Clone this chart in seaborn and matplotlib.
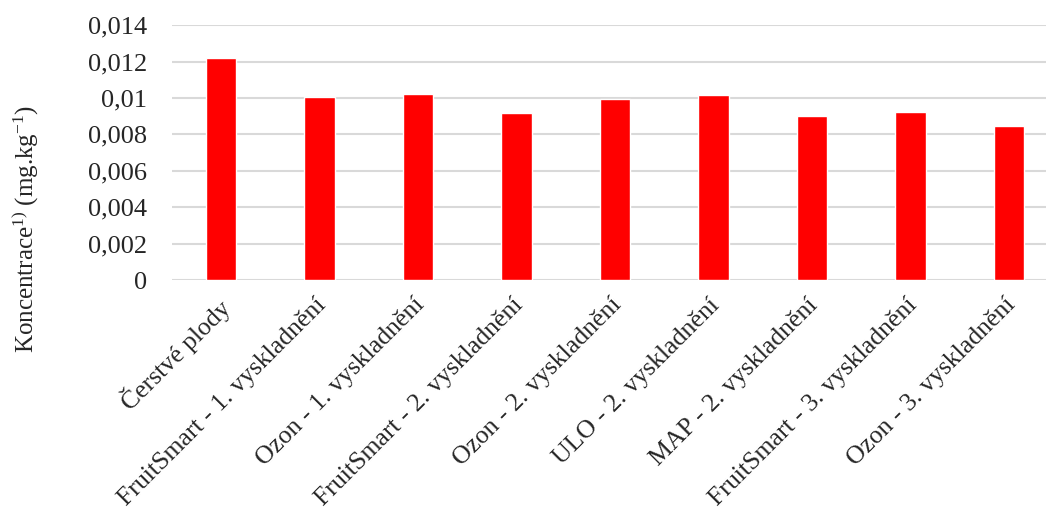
import matplotlib
matplotlib.use("Agg")
import matplotlib.pyplot as plt
import matplotlib.transforms as mtransforms
import seaborn as sns
from matplotlib.ticker import FuncFormatter, MultipleLocator

# Data
categories = [
    "Čerstvé plody",
    "FruitSmart - 1. vyskladnění",
    "Ozon - 1. vyskladnění",
    "FruitSmart - 2. vyskladnění",
    "Ozon - 2. vyskladnění",
    "ULO - 2. vyskladnění",
    "MAP - 2. vyskladnění",
    "FruitSmart - 3. vyskladnění",
    "Ozon - 3. vyskladnění",
]
values = [0.01222, 0.01007, 0.0102, 0.00916, 0.00993, 0.01017, 0.00901, 0.00923, 0.00847]

sns.set_style("white")
plt.rcParams["font.family"] = ["Liberation Serif", "DejaVu Serif"]
plt.rcParams["mathtext.fontset"] = "custom"
plt.rcParams["mathtext.rm"] = "Liberation Serif"
plt.rcParams["mathtext.it"] = "Liberation Serif:italic"

fig = plt.figure(figsize=(10.46, 5.14), dpi=100)
ax = fig.add_axes([0.1644, 0.455, 0.8356, 0.496])

sns.barplot(x=categories, y=values, color="#FF0000", saturation=1, width=0.31, ax=ax, zorder=3)

ax.set_ylim(0, 0.014)
ax.set_xlim(-0.5, 8.375)
ax.yaxis.set_major_locator(MultipleLocator(0.002))
ax.yaxis.set_major_formatter(FuncFormatter(lambda v, p: f"{v:g}".replace(".", ",")))
ax.grid(axis="y", color="#D9D9D9", linewidth=1.5, zorder=0)
ax.set_axisbelow(True)
for s in ax.spines.values():
    s.set_visible(False)

ax.tick_params(axis="y", length=0, labelsize=19, pad=18)
ax.tick_params(axis="x", length=0, labelsize=18.5, pad=10)
shift = mtransforms.ScaledTranslation(-5 / 100, 0, fig.dpi_scale_trans)
for lbl in ax.get_xticklabels():
    lbl.set_rotation(45)
    lbl.set_ha("right")
    lbl.set_va("top")
    lbl.set_rotation_mode("anchor")
    lbl.set_transform(lbl.get_transform() + shift)

ax.set_xlabel("")
ax.set_ylabel(r"Koncentrace$^{\mathrm{1)}}$ (mg.kg$^{\mathrm{-1}}$)", fontsize=18,
              va="center", ha="center")
ax.yaxis.set_label_coords(-0.168, 0.2)

fig.savefig("out.png", dpi=100)
